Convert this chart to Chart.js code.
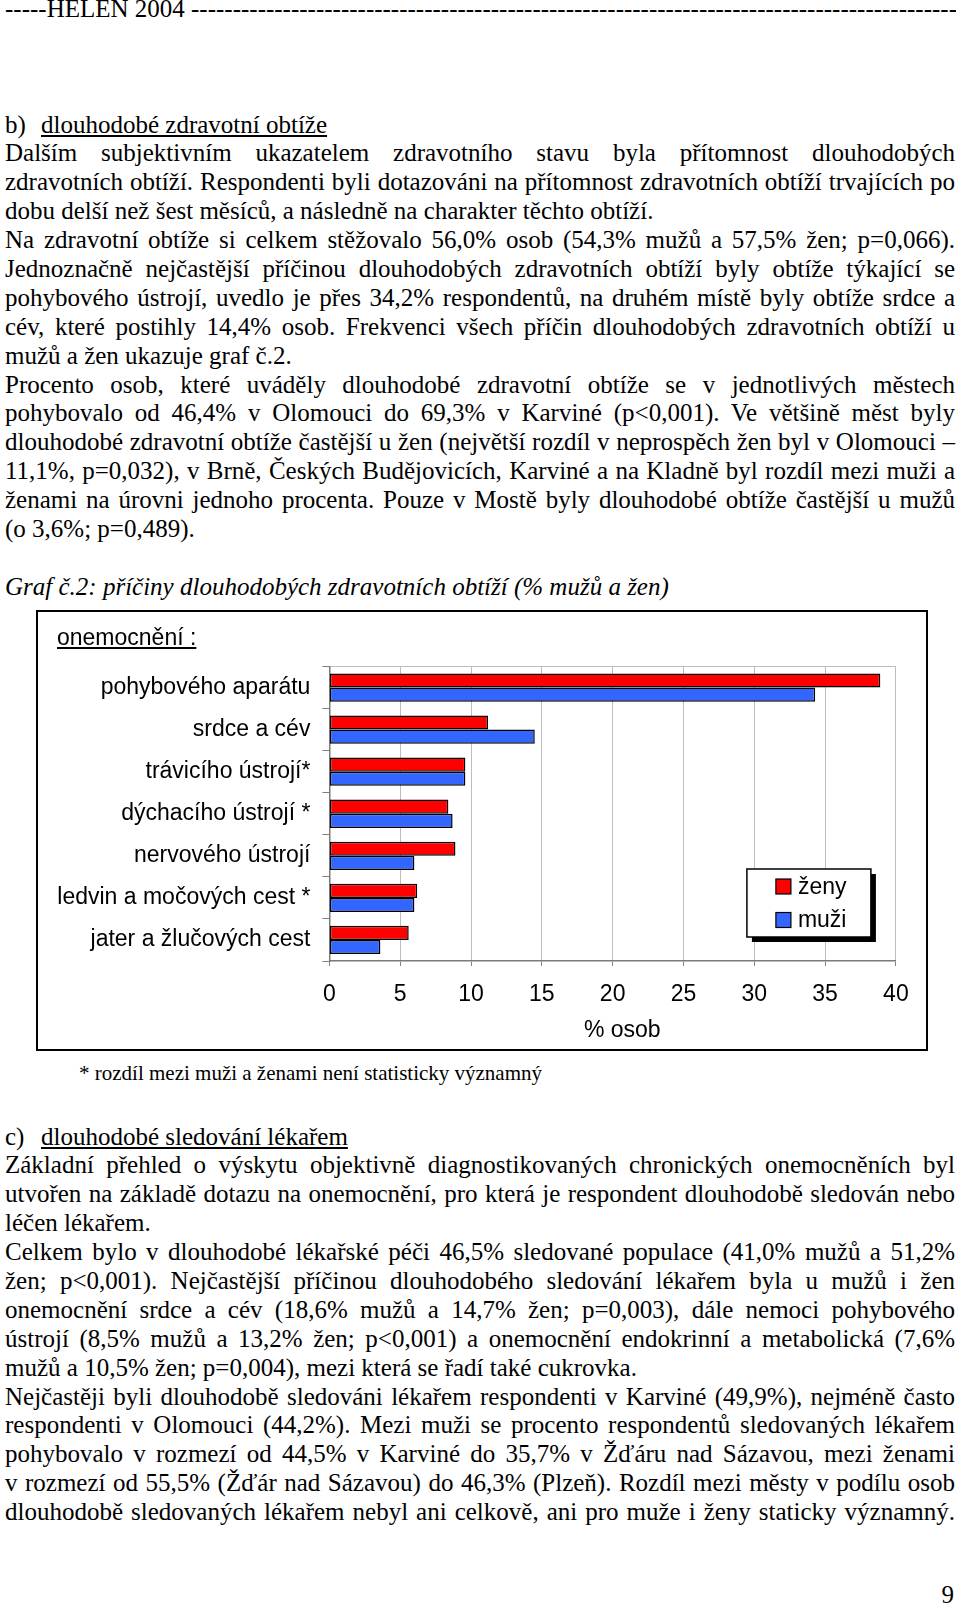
<!DOCTYPE html>
<html>
<head>
<meta charset="utf-8">
<script src="https://cdn.jsdelivr.net/npm/chart.js@4.4.1/dist/chart.umd.min.js"></script>
<style>
  html, body { margin:0; padding:0; background:#fff; }
  body { width:960px; height:1609px; position:relative; overflow:hidden; }
  .blk { position:absolute; left:5px; width:950px; font-family:"Liberation Serif","Times New Roman",serif; font-size:25px; line-height:28.9px; color:#000; }
  .l { height:28.9px; white-space:normal; transform-origin:0 0; }
  .j { text-align:justify; text-align-last:justify; }
  .tab { display:inline-block; width:36px; }
  #hdr { position:absolute; left:5px; top:-5px; width:951px; overflow:hidden; white-space:nowrap; font-family:"Liberation Serif","Times New Roman",serif; font-size:25px; line-height:28.9px; }
  #box { position:absolute; left:36px; top:610px; width:892px; height:441px; border:2px solid #000; box-sizing:border-box; }
  #cv { position:absolute; left:0; top:0; }
  #onem { position:absolute; left:19px; top:12px; font-family:"Liberation Sans",Arial,sans-serif; font-size:23px; line-height:26px; text-decoration:underline; color:#000; }
  #foot { position:absolute; left:79px; top:1061px; font-family:"Liberation Serif","Times New Roman",serif; font-size:21px; line-height:24px; white-space:nowrap; }
  #pg { position:absolute; right:6px; top:1581px; font-family:"Liberation Serif","Times New Roman",serif; font-size:25px; line-height:28.9px; }
</style>
</head>
<body>
<div id="hdr">-----HELEN 2004 ----------------------------------------------------------------------------------------------------------------------------------------</div>

<div class="blk" style="top:110.5px">
  <div class="l"><span class="tab">b)</span><u>dlouhodobé zdravotní obtíže</u></div>
  <div class="l j">Dalším subjektivním ukazatelem zdravotního stavu byla přítomnost dlouhodobých</div>
  <div class="l j">zdravotních obtíží. Respondenti byli dotazováni na přítomnost zdravotních obtíží trvajících po</div>
  <div class="l">dobu delší než šest měsíců, a následně na charakter těchto obtíží.</div>
  <div class="l j">Na zdravotní obtíže si celkem stěžovalo 56,0% osob (54,3% mužů a 57,5% žen; p=0,066).</div>
  <div class="l j">Jednoznačně nejčastější příčinou dlouhodobých zdravotních obtíží byly obtíže týkající se</div>
  <div class="l j">pohybového ústrojí, uvedlo je přes 34,2% respondentů, na druhém místě byly obtíže srdce a</div>
  <div class="l j">cév, které postihly 14,4% osob. Frekvenci všech příčin dlouhodobých zdravotních obtíží u</div>
  <div class="l">mužů a žen ukazuje graf č.2.</div>
  <div class="l j">Procento osob, které uváděly dlouhodobé zdravotní obtíže se v&nbsp;jednotlivých městech</div>
  <div class="l j">pohybovalo od 46,4% v&nbsp;Olomouci do 69,3% v&nbsp;Karviné (p&lt;0,001). Ve většině měst byly</div>
  <div class="l j">dlouhodobé zdravotní obtíže častější u žen (největší rozdíl v neprospěch žen byl v Olomouci –</div>
  <div class="l j">11,1%, p=0,032), v Brně, Českých Budějovicích, Karviné a na Kladně byl rozdíl mezi muži a</div>
  <div class="l j">ženami na úrovni jednoho procenta. Pouze v&nbsp;Mostě byly dlouhodobé obtíže častější u mužů</div>
  <div class="l">(o 3,6%; p=0,489).</div>
  <div class="l">&nbsp;</div>
  <div class="l"><i>Graf č.2: příčiny dlouhodobých zdravotních obtíží (% mužů a žen)</i></div>
</div>

<div id="box">
  <canvas id="cv" width="888" height="437"></canvas>
  <div id="onem">onemocnění :</div>
</div>

<div id="foot">* rozdíl mezi muži a ženami není statisticky významný</div>

<div class="blk" style="top:1122.5px">
  <div class="l"><span class="tab">c)</span><u>dlouhodobé sledování lékařem</u></div>
  <div class="l j">Základní přehled o výskytu objektivně diagnostikovaných chronických onemocněních byl</div>
  <div class="l j">utvořen na základě dotazu na onemocnění, pro která je respondent dlouhodobě sledován nebo</div>
  <div class="l">léčen lékařem.</div>
  <div class="l j">Celkem bylo v&nbsp;dlouhodobé lékařské péči 46,5% sledované populace (41,0% mužů a 51,2%</div>
  <div class="l j">žen; p&lt;0,001). Nejčastější příčinou dlouhodobého sledování lékařem byla u mužů i žen</div>
  <div class="l j">onemocnění srdce a&nbsp;cév (18,6% mužů a 14,7% žen; p=0,003), dále nemoci pohybového</div>
  <div class="l j">ústrojí (8,5% mužů a 13,2% žen; p&lt;0,001) a onemocnění endokrinní a&nbsp;metabolická (7,6%</div>
  <div class="l">mužů a 10,5% žen; p=0,004), mezi která se řadí také cukrovka.</div>
  <div class="l j">Nejčastěji byli dlouhodobě sledováni lékařem respondenti v&nbsp;Karviné (49,9%), nejméně často</div>
  <div class="l j">respondenti v&nbsp;Olomouci (44,2%). Mezi muži se procento respondentů sledovaných lékařem</div>
  <div class="l j">pohybovalo v&nbsp;rozmezí od 44,5% v&nbsp;Karviné do 35,7% v&nbsp;Žďáru nad Sázavou, mezi ženami</div>
  <div class="l j">v&nbsp;rozmezí od 55,5% (Žďár nad Sázavou) do 46,3% (Plzeň). Rozdíl mezi městy v&nbsp;podílu osob</div>
  <div class="l j">dlouhodobě sledovaných lékařem nebyl ani celkově, ani pro muže i ženy staticky významný.</div>
</div>

<div id="pg">9</div>

<script>
// ---- chart data ----
const categories = [
  'pohybového aparátu',
  'srdce a cév',
  'trávicího ústrojí*',
  'dýchacího ústrojí *',
  'nervového ústrojí',
  'ledvin a močových cest *',
  'jater a žlučových cest'
];
const seriesNames = ['ženy', 'muži'];
const zenyValues = [38.9, 11.2, 9.6, 8.4, 8.9, 6.2, 5.6];
const muziValues = [34.3, 14.5, 9.6, 8.7, 6.0, 6.0, 3.6];
const seriesColors = ['#ff0000', '#3366ff'];
const xAxisMin = 0;
const xAxisMax = 40;
const xAxisStep = 5;
const xAxisTitle = '% osob';

// ---- fit text lines to the measure ----
(function fitLines(){
  const W = 950;
  document.querySelectorAll('.blk .l').forEach(el => {
    const s = el.style;
    s.display = 'inline-block'; s.whiteSpace = 'nowrap'; s.width = 'auto';
    const nat = el.getBoundingClientRect().width;
    s.display = ''; s.whiteSpace = '';
    if (nat > W - 0.5) {
      s.width = (nat + 2) + 'px';
      s.whiteSpace = 'nowrap';
      s.transform = 'scaleX(' + (W / (nat + 2)) + ')';
    } else {
      s.width = W + 'px';
    }
  });
})();

const FONT = "'Liberation Sans', Arial, sans-serif";
const FS = 23;
Chart.defaults.font.family = FONT;
Chart.defaults.color = '#000';

const boxLegend = {
  id: 'boxLegend',
  afterDraw(chart) {
    const { ctx, chartArea } = chart;
    const w = 124, h = 68;
    const x = chartArea.right - 25 - w;
    const y = chartArea.bottom - 24 - h;
    ctx.save();
    ctx.fillStyle = '#000';
    ctx.fillRect(x + 5, y + 5, w, h);
    ctx.fillStyle = '#fff';
    ctx.fillRect(x, y, w, h);
    ctx.strokeStyle = '#000';
    ctx.lineWidth = 1.5;
    ctx.strokeRect(x, y, w, h);
    ctx.font = FS + 'px ' + FONT;
    ctx.textBaseline = 'middle';
    chart.data.datasets.forEach((ds, i) => {
      const cy = y + 17.5 + i * 33.5;
      ctx.fillStyle = ds.backgroundColor;
      ctx.fillRect(x + 29, cy - 7.5, 15, 15);
      ctx.lineWidth = 1.2;
      ctx.strokeStyle = '#000';
      ctx.strokeRect(x + 29, cy - 7.5, 15, 15);
      ctx.fillStyle = '#000';
      ctx.fillText(ds.label, x + 51, cy + 1);
    });
    ctx.restore();
  }
};

new Chart(document.getElementById('cv'), {
  type: 'bar',
  data: {
    labels: categories,
    datasets: [
      { label: seriesNames[0], data: zenyValues, backgroundColor: seriesColors[0] },
      { label: seriesNames[1], data: muziValues, backgroundColor: seriesColors[1] }
    ]
  },
  options: {
    indexAxis: 'y',
    responsive: false,
    animation: false,
    devicePixelRatio: 1,
    layout: { padding: { left: 0, top: 54.5, right: 30.1, bottom: 0.8 } },
    datasets: {
      bar: {
        categoryPercentage: 0.673,
        barPercentage: 1.0,
        borderColor: '#000',
        borderWidth: 1.5,
        borderSkipped: false
      }
    },
    plugins: {
      legend: { display: false },
      tooltip: { enabled: false }
    },
    scales: {
      x: {
        min: xAxisMin,
        max: xAxisMax,
        ticks: { stepSize: xAxisStep, color: '#000', font: { size: FS }, padding: 15 },
        grid: { color: '#bdbdbd', tickColor: '#808080', tickLength: 5, lineWidth: 1 },
        border: { color: '#7a7a7a', width: 1.5 },
        title: { display: true, text: '   ' + xAxisTitle, color: '#000', font: { size: FS }, padding: { top: 0, bottom: 4 } },
        afterFit: (s) => { s.height = 87.2; }
      },
      y: {
        ticks: { color: '#000', font: { size: FS }, padding: 12 },
        grid: {
          offset: true,
          color: (c) => (c.index === 0 ? '#bdbdbd' : 'rgba(0,0,0,0)'),
          tickColor: '#808080',
          tickLength: 7
        },
        border: { color: '#7a7a7a', width: 1.5 },
        afterFit: (s) => { s.width = 291.4; }
      }
    }
  },
  plugins: [boxLegend]
});
</script>
</body>
</html>
